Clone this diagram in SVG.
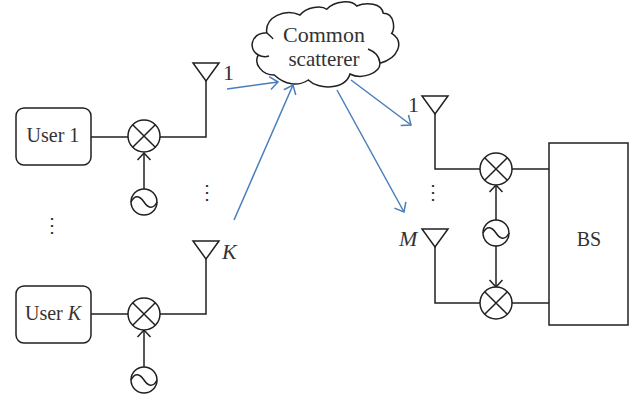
<svg xmlns="http://www.w3.org/2000/svg" width="638" height="400" viewBox="0 0 638 400">
<style>
.k{fill:none;stroke:#231f20;stroke-width:1.5}
.w{fill:#fff;stroke:#231f20;stroke-width:1.5}
.b{fill:none;stroke:#4a7ebb;stroke-width:1.5}
.t{font-family:"Liberation Serif","Times New Roman",serif;font-size:20px;fill:#333}
.m{text-anchor:middle}
.i{font-style:italic}
.l{font-size:22px}
.c{font-size:22px}
.s{font-size:21px}
</style>
<defs>
<g id="mix"><circle r="16" class="w"/><path class="k" d="M-11.300-11.300L11.300 11.300M-11.300 11.300L11.300-11.300"/></g>
<g id="osc"><circle r="13" class="w"/><path class="k" d="M-13 0C-9-8-4-6 0 0S9 8 13 0"/></g>
<path id="ant" class="k" d="M-13 0H13L0 18Z"/>
<marker id="ka" markerUnits="userSpaceOnUse" markerWidth="16" markerHeight="16" refX="13" refY="8" orient="auto"><path class="k" d="M6 1.500L13 8L6 14.500"/></marker>
<marker id="ba" markerUnits="userSpaceOnUse" markerWidth="16" markerHeight="16" refX="13" refY="8" orient="auto"><path class="b" d="M5 1.500L13 8L5 14.500"/></marker>
</defs>
<g id="connectors">
<path class="k" d="M91 137H128M160 137H206V81"/>
<path class="k" d="M144 189V153" marker-end="url(#ka)"/>
<path class="k" d="M91 314H128M160 314H206V259"/>
<path class="k" d="M144 367V330" marker-end="url(#ka)"/>
<path class="k" d="M435 114V169H480M512 169H549"/>
<path class="k" d="M435 247V303H480M512 303H549"/>
<path class="k" d="M496 220V185" marker-end="url(#ka)"/>
<path class="k" d="M496 246V287" marker-end="url(#ka)"/>
</g>
<g id="user1"><rect x="16" y="108" width="75" height="57" rx="8" class="w"/><text class="t m" x="53" y="142">User 1</text></g>
<g id="mixer-u1"><use href="#mix" x="144" y="136"/></g>
<g id="osc-u1"><use href="#osc" x="144" y="202"/></g>
<g id="antenna-1"><use href="#ant" x="206" y="63"/><text class="t l" x="223" y="80">1</text></g>
<g id="dots-left"><text class="t m" x="52" y="232">⋮</text><text class="t m" x="207" y="199">⋮</text><text class="t m" x="433" y="199">⋮</text></g>
<g id="userK"><rect x="16" y="286" width="75" height="57" rx="8" class="w"/><text class="t m" x="53" y="320">User <tspan class="i">K</tspan></text></g>
<g id="mixer-uK"><use href="#mix" x="144" y="314"/></g>
<g id="osc-uK"><use href="#osc" x="144" y="380"/></g>
<g id="antenna-K"><use href="#ant" x="206" y="241"/><text class="t i l" x="222" y="259">K</text></g>
<g id="cloud"><path class="w" d="M266.700 32.700C265 16.700 285 8.300 300 15C306.700 6.700 321.700 5 326.700 9.300C335 0 351.700 0 356.700 6C366.700 1.700 381.700 3.300 383.300 13.300C395 13.300 395 30 391.700 33.300C405 41.700 398.300 58.300 380 63.300C380 73.300 361.700 80 350 74C345 90 318.300 90 308.300 80C298.300 86.700 285 85 274.300 75C261.700 75 253.300 63.300 258.300 55C248.300 50 250 33.300 266.700 32.700Z"/>
<path class="k" d="M380 63.300C379 55 375 52 368 49M258.300 55C262 57 266 57 269 56M266.700 32.700C269 35 272 37 273 39"/>
<text class="t m c" x="324" y="42">Common</text><text class="t m s" x="324" y="65.500">scatterer</text></g>
<g id="scatter-links">
<path class="b" d="M227 89L278 82" marker-end="url(#ba)"/>
<path class="b" d="M234 220L293 85" marker-end="url(#ba)"/>
<path class="b" d="M351 80L411 125" marker-end="url(#ba)"/>
<path class="b" d="M337 90L404 212" marker-end="url(#ba)"/>
</g>
<g id="antenna-b1"><use href="#ant" x="435" y="96"/><text class="t l" x="408" y="112">1</text></g>
<g id="antenna-bM"><use href="#ant" x="435" y="229"/><text class="t i l" x="399" y="246">M</text></g>
<g id="mixer-b1"><use href="#mix" x="496" y="169"/></g>
<g id="mixer-bM"><use href="#mix" x="496" y="303"/></g>
<g id="osc-b"><use href="#osc" x="496" y="233"/></g>
<g id="bs"><rect x="549" y="143" width="79" height="182" class="w"/><text class="t m" x="589" y="246">BS</text></g>
</svg>
